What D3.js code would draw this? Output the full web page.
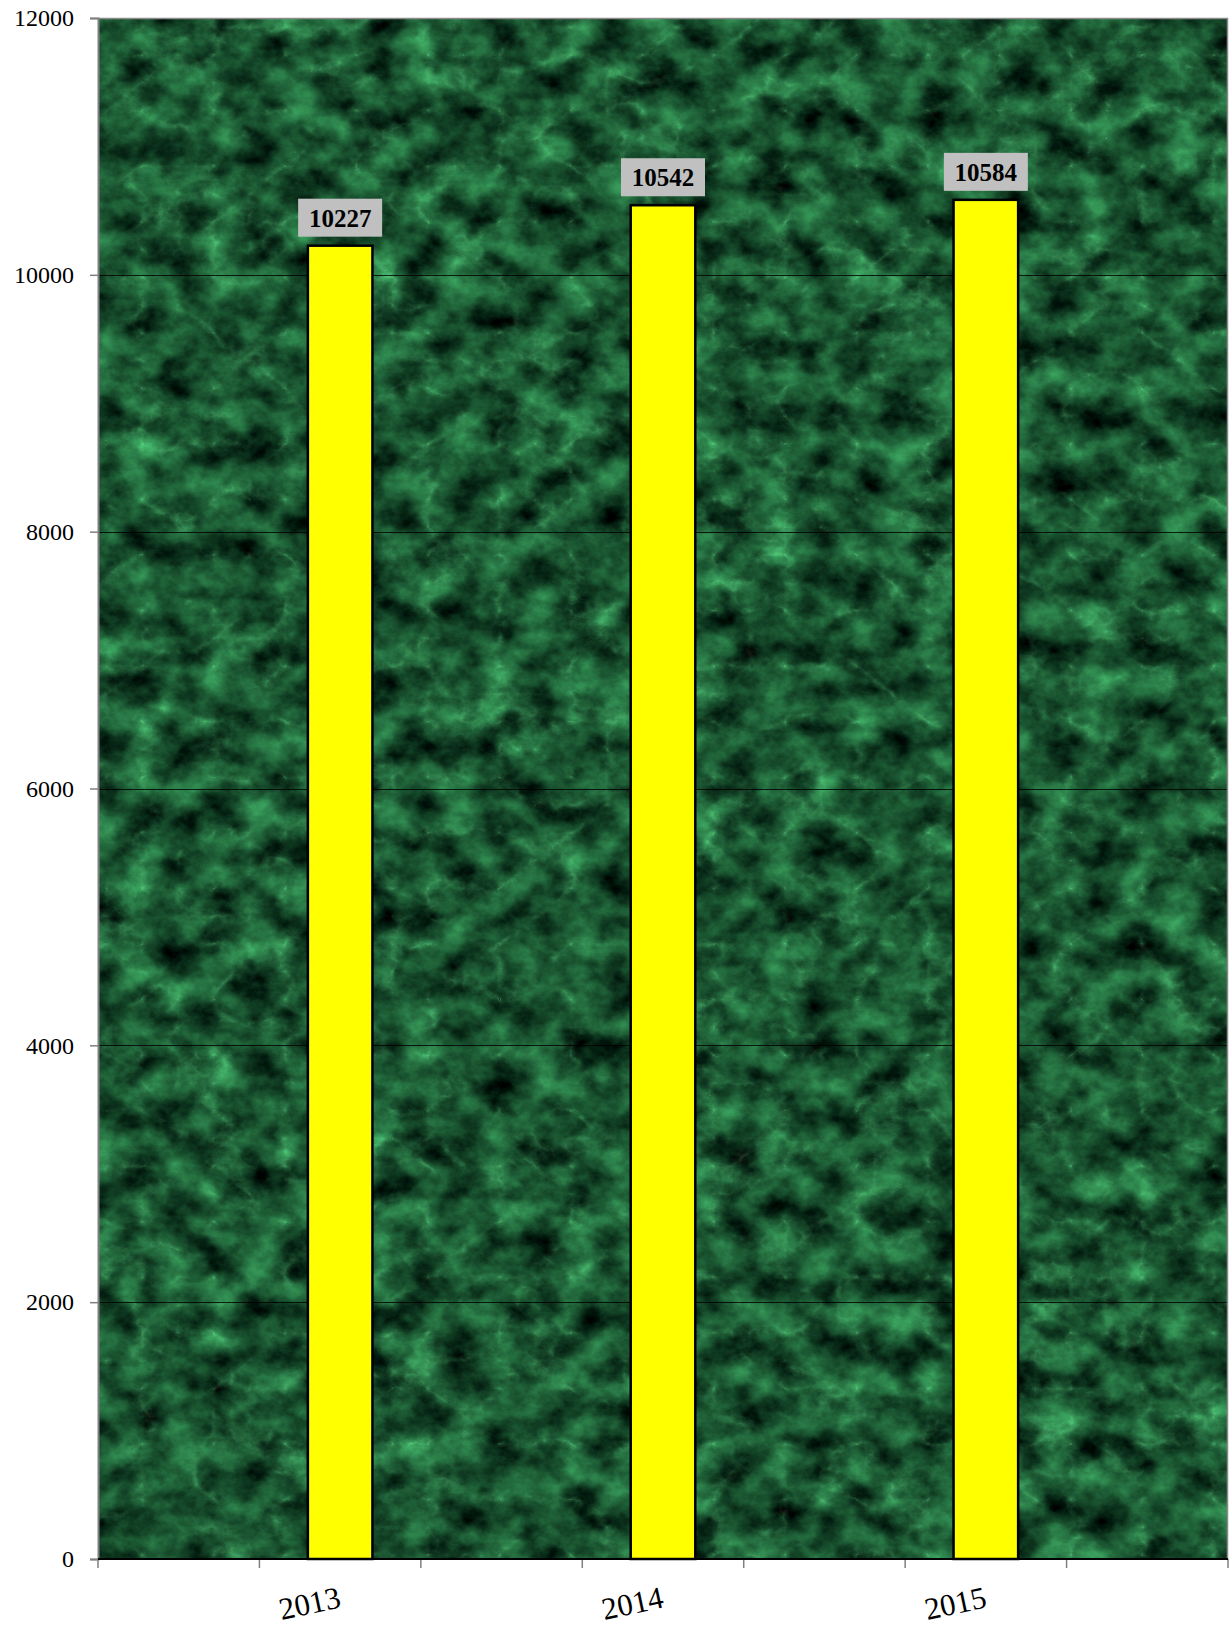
<!DOCTYPE html>
<html>
<head>
<meta charset="utf-8">
<script src="https://cdn.jsdelivr.net/npm/d3@7"></script>
<style>
  html, body { margin: 0; padding: 0; background: #ffffff; }
  svg { display: block; }
  svg text { font-family: "Liberation Serif", "Times New Roman", serif; }
</style>
</head>
<body>
<svg id="chart" width="1231" height="1629"></svg>
<script>
// Category slots (blank slots are empty categories on the axis)
const categories = ["", "2013", "", "2014", "", "2015", ""];
const values = [null, 10227, null, 10542, null, 10584, null];
const yTicks = [0, 2000, 4000, 6000, 8000, 10000, 12000];

const svg = d3.select("#chart");
const x0 = 98, x1 = 1228, y0 = 1559, y1 = 18;
const SERIF = '"Liberation Serif", "Times New Roman", serif';

const x = d3.scaleBand().domain(d3.range(categories.length)).range([x0, x1]).padding(0);
const y = d3.scaleLinear().domain([0, 12000]).range([y0, y1]);

// Marble texture filter
const defs = svg.append("defs");
const f = defs.append("filter").attr("id", "marble")
  .attr("x", 0).attr("y", 0).attr("width", 1).attr("height", 1)
  .attr("color-interpolation-filters", "sRGB");
f.append("feTurbulence").attr("type", "fractalNoise")
  .attr("baseFrequency", "0.025 0.03").attr("numOctaves", 6).attr("seed", 7).attr("result", "n1");
f.append("feTurbulence").attr("type", "turbulence")
  .attr("baseFrequency", "0.014 0.018").attr("numOctaves", 5).attr("seed", 3).attr("result", "n2");
f.append("feComponentTransfer").attr("in", "n2").attr("result", "veins")
  .append("feFuncR").attr("type", "table").attr("tableValues", "0.9 0.35 0.05 0 0 0 0 0 0 0");
f.append("feColorMatrix").attr("in", "n1").attr("type", "matrix")
  .attr("values", [
    "0.35 0 0 0 -0.08",
    "0.85 0 0 0 -0.11",
    "0.50 0 0 0 -0.07",
    "0 0 0 0 1"].join(" "))
  .attr("result", "base");
f.append("feColorMatrix").attr("in", "veins").attr("type", "matrix")
  .attr("values", [
    "0.14 0 0 0 0",
    "0.26 0 0 0 0",
    "0.17 0 0 0 0",
    "0 0 0 0 1"].join(" "))
  .attr("result", "veinCol");
f.append("feComposite").attr("in", "base").attr("in2", "veinCol")
  .attr("operator", "arithmetic").attr("k1", 0).attr("k2", 1).attr("k3", 1).attr("k4", 0);

// Plot background
svg.append("rect")
  .attr("x", x0).attr("y", y1).attr("width", x1 - x0).attr("height", y0 - y1)
  .attr("fill", "#1a5a32").attr("filter", "url(#marble)");

// Gridlines
svg.append("g").selectAll("line")
  .data(yTicks.filter(d => d > 0 && d < 12000))
  .join("line")
  .attr("x1", x0).attr("x2", x1)
  .attr("y1", d => Math.round(y(d)) + 0.5).attr("y2", d => Math.round(y(d)) + 0.5)
  .attr("stroke", "#000").attr("stroke-opacity", 0.8).attr("stroke-width", 1);

// Plot border (top & right gray)
svg.append("path")
  .attr("d", `M${x0},${y1 + 0.5}H${x1 - 0.5}V${y0}`)
  .attr("fill", "none").attr("stroke", "#8a8a8a").attr("stroke-width", 1.5);

// Y axis
const yAxis = d3.axisLeft(y).tickValues(yTicks).tickSize(8).tickPadding(16).tickFormat(d3.format("d"));
const gy = svg.append("g").attr("transform", `translate(${x0},0)`).call(yAxis)
  .attr("font-family", SERIF).attr("font-size", 24);
gy.select(".domain").attr("stroke", "#808080").attr("stroke-width", 2);
gy.selectAll(".tick line").attr("stroke", "#808080").attr("stroke-width", 1.5);
gy.selectAll(".tick text").attr("fill", "#000");

// X axis ticks at band boundaries
const boundaries = d3.range(categories.length + 1).map(i => x0 + i * x.bandwidth());
svg.append("g").selectAll("line").data(boundaries).join("line")
  .attr("x1", d => d).attr("x2", d => d)
  .attr("y1", y0).attr("y2", y0 + 9)
  .attr("stroke", "#808080").attr("stroke-width", 1.5);

// Bars
const bw = x.bandwidth() * 0.4;
const barData = values.map((v, i) => ({ i, v, c: categories[i] })).filter(d => d.v != null);
svg.append("g").selectAll("rect").data(barData).join("rect")
  .attr("x", d => x(d.i) + x.bandwidth() / 2 - bw / 2)
  .attr("y", d => y(d.v))
  .attr("width", bw)
  .attr("height", d => y0 - y(d.v))
  .attr("fill", "#ffff00")
  .attr("stroke", "#000").attr("stroke-width", 2.5);

// X axis line (black)
svg.append("line").attr("x1", x0).attr("x2", x1).attr("y1", y0).attr("y2", y0)
  .attr("stroke", "#000").attr("stroke-width", 2);

// Data labels
const lbl = svg.append("g").selectAll("g").data(barData).join("g")
  .attr("transform", d => `translate(${x(d.i) + x.bandwidth() / 2},${y(d.v) - 9})`);
lbl.append("rect")
  .attr("x", -42).attr("y", -38).attr("width", 84).attr("height", 38)
  .attr("fill", "#c0c0c0");
lbl.append("text")
  .attr("x", 0).attr("y", -10)
  .attr("text-anchor", "middle")
  .attr("font-family", SERIF)
  .attr("font-weight", "bold").attr("font-size", 25)
  .attr("fill", "#000")
  .text(d => d.v);

// Category labels (rotated)
svg.append("g").selectAll("text").data(barData).join("text")
  .attr("transform", d => `translate(${x(d.i) + x.bandwidth() / 2 + 2},${1607}) rotate(-12)`)
  .attr("text-anchor", "end")
  .attr("font-family", SERIF)
  .attr("font-size", 31).attr("fill", "#000")
  .text(d => d.c);
</script>
</body>
</html>
